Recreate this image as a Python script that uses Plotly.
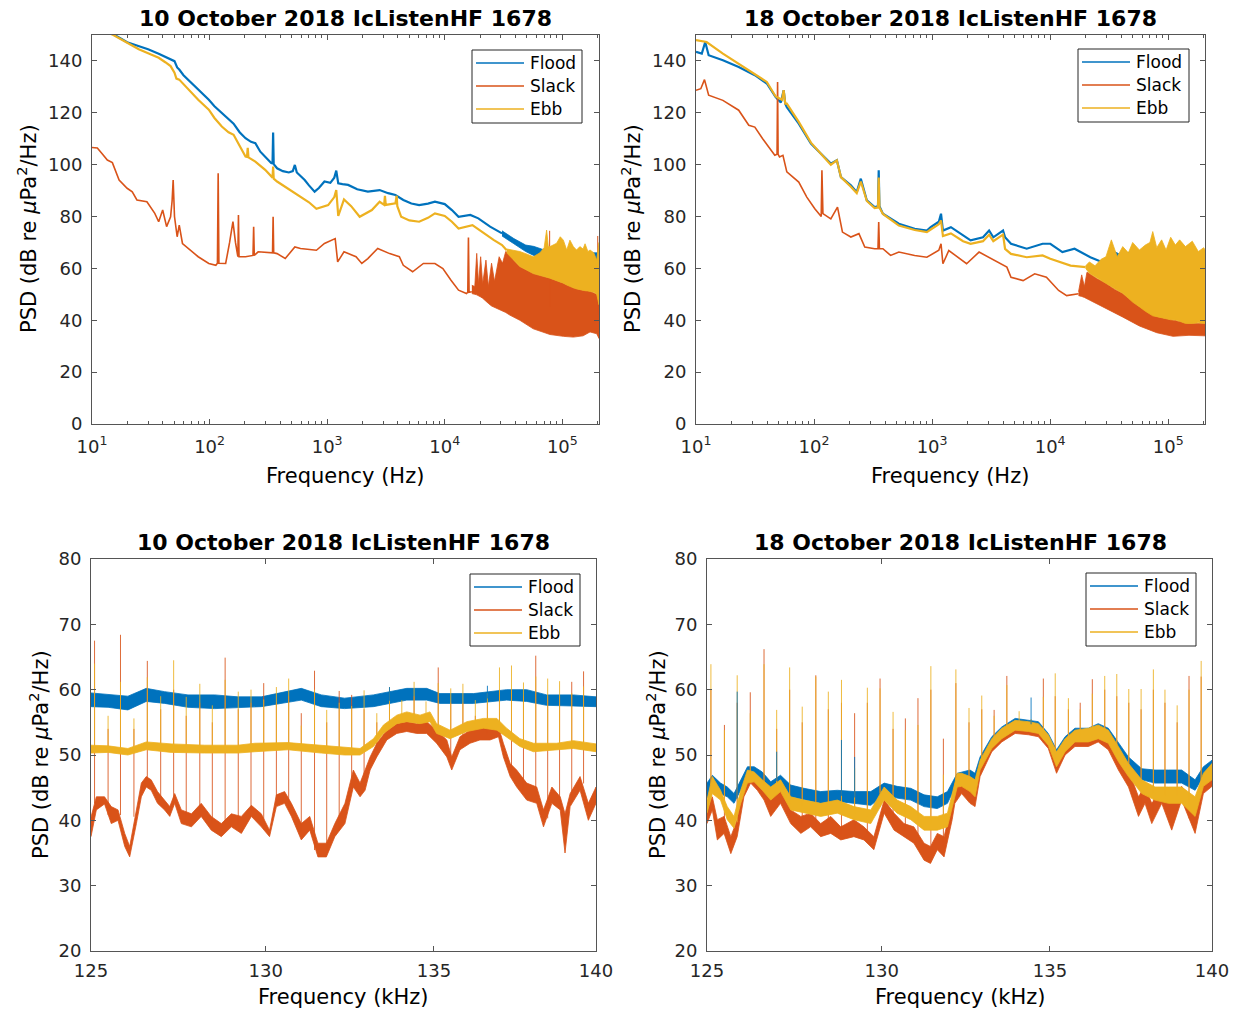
import numpy as np
import plotly.graph_objects as go

W, H = 1238, 1012
FLOOD, SLACK, EBB = "#0072BD", "#D95319", "#EDB120"
AX = "#262626"
FRAME = "#555555"
FONT = "DejaVu Sans"

# ---------------- 10 October 2018, broadband PSD (Hz, dB) ----------------
a_flood_f = [10, 12, 15.2, 19.9, 25.1, 30, 36.9, 42, 46.6, 50.3,
             53, 55.2, 60, 68.5, 80, 98.5, 110, 127, 145, 160,
             180, 202, 225, 245, 270, 297, 334, 343, 347, 351,
             375, 420, 472, 510, 531, 552, 600, 644, 700, 782,
             850, 948, 1064, 1150, 1195, 1242, 1350, 1507, 1800, 2218,
             2794, 3300, 3804, 4443, 5200, 6057, 7200, 8250, 10000, 11500,
             13100, 16500, 19300, 24300, 30700]
a_flood_db = [154, 152.5, 150.3, 147.2, 145.7, 144.5, 142.8, 141.5, 140.5, 139.9,
              137.5, 136.7, 134.5, 132, 129, 125, 122.5, 120, 117.5, 115.8,
              112.5, 110.2, 108.8, 108.3, 105, 103, 100.6, 100.5, 112.4, 100.2,
              98.6, 97.5, 97, 97.5, 99.9, 97, 95.5, 94.1, 92, 89.6,
              91, 93.5, 93, 95, 97.7, 92.8, 92.5, 92.2, 90.5, 89.6,
              90.2, 89, 88.3, 86.4, 85, 84.4, 85, 85.7, 84.8, 82.5,
              79.9, 80.6, 79.3, 76.1, 73.5]
a_flood_band_f = [30700, 38700, 48800, 57000, 66400, 83700, 120000, 205000]
a_flood_band_lo = [72.5, 69.5, 66.5, 65.0, 63.0, 61.0, 59.0, 57.0]
a_flood_band_hi = [74.5, 71.5, 69.0, 68.5, 67.5, 66.0, 66.0, 66.0]

a_slack_f = [10, 11.1, 12.3, 13.5, 14.9, 17.0, 19.9, 22, 24.1, 26.5,
             29.3, 34.2, 36.9, 39.9, 43.1, 46.6, 48, 49, 50.3, 53,
             55.2, 58.8, 68.5, 80, 98.5, 113, 116.6, 118.3, 120, 137,
             148, 158, 166, 172, 174, 176, 178, 202, 234, 237,
             240, 259, 343, 347, 351, 375, 440, 531, 593, 810,
             948, 1170, 1228, 1390, 1760, 1970, 2218, 2690, 3400, 4110,
             4440, 5330, 6580, 8250, 9640, 11300, 13100, 15300, 15700, 15900,
             16100, 17000]
a_slack_db = [106.6, 106.4, 104, 101.8, 100.8, 94.1, 90.9, 89.5, 86.4, 86,
              85.7, 81.2, 78, 82.5, 76.1, 79.9, 86, 94.1, 80, 72.2,
              76.7, 69.6, 67, 64.5, 61.9, 61.2, 62, 96.7, 62, 61.9,
              70, 78, 70, 64.5, 64.5, 80.6, 64.5, 64.5, 65, 76.1,
              65, 66.4, 66, 79.9, 66, 65.7, 63.8, 68.3, 67.7, 67,
              69.6, 71.5, 62.5, 66.4, 64.5, 61.9, 63.8, 67.7, 65.7, 64.5,
              61.2, 58.7, 61.9, 61.9, 59.9, 55.4, 51.6, 50.3, 50.8, 71.9,
              50.8, 51]
a_slack_band_f = [17000, 18000, 18700, 19400, 20200, 21000, 22400, 23500, 25000, 26500,
                  29000, 31000, 33000, 35700, 38000, 43500, 56600, 78500, 102000, 124000,
                  150000, 172000, 196000, 205000]
a_slack_band_lo = [50.3, 50.0, 49.8, 49.5, 49.0, 48.5, 47.5, 46.5, 45.5, 45.0,
                   44.2, 43.6, 43.0, 42.0, 41.3, 40.0, 36.7, 34.5, 33.8, 33.5,
                   34.0, 35.5, 34.8, 33.0]
a_slack_band_hi = [53.5, 53.0, 65.8, 54.0, 64.5, 54.0, 63.2, 53.0, 62.0, 55.0,
                   64.5, 62.0, 66.5, 65.5, 63.5, 60.7, 58.0, 56.2, 54.3, 52.5,
                   51.5, 51.2, 50.0, 46.0]
a_slack_tip_f = [78000, 200000]
a_slack_tip_db = [74.5, 72.5]

a_ebb_f = [10, 12, 15.2, 19.9, 25, 30, 36.9, 42, 46.6, 50.3,
           52.2, 55.2, 60, 68.5, 80, 98.5, 110, 127, 145, 160,
           180, 202, 208, 211, 214, 245, 297, 343, 347, 351,
           375, 440, 520, 593, 700, 810, 1020, 1150, 1195, 1242,
           1390, 1600, 1890, 2400, 2794, 3050, 3100, 3150, 3804, 3900,
           3950, 4260, 5000, 6057, 7200, 8250, 10000, 11500, 13100, 17200,
           21600, 26000, 30700, 33600]
a_ebb_db = [154, 152, 150, 147, 144.5, 143, 141.2, 139.5, 138, 135.5,
            133.2, 132.8, 131, 128.3, 125, 121.2, 118, 114.7, 112.5, 111.5,
            107, 103.1, 103, 106.5, 102.8, 101.2, 98, 95, 99.3, 94.6,
            93.5, 91.5, 89.5, 87.7, 85.5, 83, 84.4, 87.5, 90.2, 80.2,
            86.6, 84, 79.9, 82.5, 85.7, 84.5, 88, 84.5, 85.1, 88,
            84, 79.9, 78.5, 78, 79.5, 81.2, 80.2, 78, 75.4, 76.7,
            73.5, 71, 69, 67]
a_ebb_band_f = [33600, 38000, 43500, 50000, 56600, 64500, 70000, 73500, 76000, 78500,
                89400, 96000, 102000, 109000, 116000, 124000, 132000, 141000, 150000, 156000,
                165000, 172000, 185000, 196000, 205000]
a_ebb_band_lo = [66.0, 63.5, 60.7, 59.3, 58.0, 57.3, 56.9, 56.6, 56.4, 56.2,
                 55.2, 54.8, 54.3, 53.6, 53.0, 52.5, 52.1, 51.7, 51.5, 51.4,
                 51.3, 51.2, 50.8, 50.0, 46.0]
a_ebb_band_hi = [67.5, 67.1, 66.5, 65.5, 64.5, 66.0, 68.0, 74.8, 68.4, 68.4,
                 69.7, 72.2, 70.9, 67.1, 70.9, 68.4, 67.1, 68.4, 67.5, 69.5,
                 66.5, 67.1, 66.0, 63.2, 70.0]

# ---------------- 18 October 2018, broadband PSD (Hz, dB) ----------------
b_flood_f = [10, 11.2, 11.97, 12.8, 16.9, 23.0, 31.5, 39.8, 47.3, 52.3,
             55.3, 57, 58.8, 74.2, 94.1, 118.9, 138.7, 156, 168.9, 205,
             230, 249, 280, 326, 348, 353, 358, 383, 523, 712,
             903, 973, 1140, 1190, 1235, 1443, 1830, 2120, 2700, 3040,
             3300, 3990, 4150, 4660, 6330, 8630, 10030, 12700, 16100, 21900,
             29800]
b_flood_db = [143.5, 142.8, 147.3, 142.2, 140.3, 137.7, 134.5, 131.3, 126.1, 124,
              128.7, 123.5, 122.2, 115.8, 108.1, 103.6, 100.4, 101.7, 95.2, 92,
              89.4, 94.6, 86.2, 83.6, 84, 97.8, 84, 81.1, 77.2, 75.3,
              74.6, 75.9, 78, 81.1, 74.6, 75.9, 72.7, 70.8, 72, 74.6,
              72, 74.6, 72, 69.5, 67.6, 69.5, 69.5, 66.3, 67.6, 64.3,
              61.8]
b_flood_band_f = [29800, 35000, 41000, 50000, 60000, 80000, 120000, 205000]
b_flood_band_lo = [60.5, 58.0, 56.0, 54.0, 52.0, 50.0, 48.0, 46.0]
b_flood_band_hi = [63.0, 66.5, 65.0, 67.0, 66.0, 65.0, 64.0, 63.0]

b_slack_f = [10, 10.98, 11.8, 12.8, 16.9, 23.0, 28, 31.5, 36.7, 46.5,
             48.6, 49.1, 49.6, 51, 54.5, 58.8, 74.2, 86.8, 101.5, 115,
             116.6, 118.9, 138.7, 158, 174, 205, 240, 269, 326, 348,
             353, 358, 383, 445, 523, 712, 903, 1140, 1190, 1235,
             1385, 1960, 2500, 3400, 4300, 4660, 5900, 7400, 9300, 11800,
             13800, 17400]
b_slack_db = [128.7, 129.3, 132.8, 126.8, 124.8, 121, 115.2, 114.5, 110, 103.6,
              104, 131.9, 104, 103, 103.6, 97.2, 93.3, 87.5, 83, 80,
              97.8, 81.1, 79.1, 83.6, 74, 72.1, 73.4, 68.2, 67.6, 67.6,
              77.9, 67.6, 67.6, 65, 66.3, 65, 64.3, 67, 69.5, 61.8,
              66.9, 61.8, 66.3, 63.1, 60.5, 56.6, 55.3, 57.9, 56.6, 51.5,
              49.5, 50.2]
b_slack_band_f = [17400, 18500, 19500, 20500, 21500, 25000, 29700, 35000, 41000, 57000,
                  80000, 110000, 150000, 205000]
b_slack_band_lo = [49.5, 49.2, 48.8, 48.4, 47.8, 46.3, 44.5, 42.8, 41.3, 37.8,
                   35.2, 33.8, 34.2, 34.0]
b_slack_band_hi = [51.0, 57.5, 53.0, 58.5, 58.0, 56.0, 54.3, 52.0, 50.4, 45.2,
                   41.4, 40.1, 38.8, 38.8]

b_ebb_f = [10, 12.3, 16.9, 23.0, 31.5, 39.8, 47.3, 53.5, 55.3, 57,
           58.8, 74.2, 94.1, 118.9, 138.7, 156, 168.9, 205, 230, 249,
           280, 326, 348, 353, 358, 383, 523, 712, 903, 973,
           1140, 1190, 1235, 1443, 1830, 2120, 2700, 3040, 3300, 3990,
           4150, 4660, 6330, 8630, 10030, 14900, 20000]
b_ebb_db = [148, 147.3, 142.8, 139, 135.1, 131.9, 126.3, 125, 128.7, 123.5,
            123.5, 116.5, 108.5, 103.6, 100, 101.7, 95.2, 91.5, 89, 93.5,
            86, 83.3, 83.5, 95, 83.5, 81, 76.5, 74.8, 74, 75,
            77, 78.5, 72.5, 73.5, 70.5, 69.5, 70.5, 73, 70.5, 73,
            67.5, 65.6, 64.3, 65, 63.7, 61.1, 60.5]
b_ebb_band_f = [20000, 21500, 24000, 27000, 29700, 33000, 37000, 41200, 46000, 50000,
                57000, 64000, 70000, 74000, 80000, 88000, 96000, 105000, 115000, 125000,
                140000, 160000, 180000, 200000, 205000]
b_ebb_band_lo = [60.0, 58.1, 57.0, 55.5, 54.3, 53.0, 51.6, 50.4, 48.5, 47.0,
                 45.2, 43.5, 42.3, 41.7, 41.4, 40.9, 40.5, 40.2, 40.1, 39.6,
                 38.8, 38.8, 39.0, 38.8, 38.8]
b_ebb_band_hi = [61.0, 62.5, 61.0, 63.5, 64.5, 71.0, 64.5, 68.4, 66.0, 70.0,
                 67.1, 69.0, 70.0, 74.2, 68.0, 71.0, 67.1, 72.0, 69.0, 71.0,
                 68.4, 70.5, 66.5, 68.0, 67.1]

# ---------------- 10 October 2018, 125-140 kHz detail (kHz, dB) ----------------
c_flood_f = [125.00, 125.48, 126.04, 126.56, 127.08, 127.75, 128.52, 129.19, 129.87, 131.04,
             131.63, 132.32, 133.18, 134.18, 134.78, 135.18, 136.20, 137.22, 137.84, 138.46,
             139.29, 140.0]
c_flood_lo = [57.4, 57.3, 56.9, 58.2, 57.9, 57.3, 57.1, 57.3, 57.4, 58.4,
              57.4, 57.1, 57.4, 58.4, 58.4, 57.9, 57.9, 58.4, 58.2, 57.6,
              57.5, 57.4]
c_flood_hi = [59.5, 59.3, 59.0, 60.2, 59.7, 59.2, 59.2, 58.9, 58.9, 60.2,
              59.2, 58.7, 59.2, 60.2, 60.2, 59.4, 59.4, 60.0, 60.0, 59.2,
              59.2, 58.9]

c_slack_f = [125.00, 125.15, 125.38, 125.57, 125.76, 125.95, 126.09, 126.28, 126.42, 126.56,
             126.70, 126.88, 127.08, 127.23, 127.37, 127.56, 127.85, 128.13, 128.42, 128.71,
             129.00, 129.29, 129.58, 129.87, 130.11, 130.31, 130.55, 130.75, 131.04, 131.29,
             131.53, 131.78, 132.03, 132.33, 132.58, 132.78, 132.93, 133.08, 133.28, 133.58,
             133.88, 134.18, 134.48, 134.78, 135.08, 135.39, 135.54, 135.79, 136.10, 136.40,
             136.71, 136.97, 137.12, 137.33, 137.53, 137.84, 138.15, 138.36, 138.62, 138.88,
             139.03, 139.19, 139.50, 139.76, 140.0]
c_slack_lo = [37.5, 41.6, 42.5, 39.5, 40.0, 36.0, 34.4, 39.5, 43.6, 45.1,
              44.6, 42.6, 41.6, 40.6, 42.6, 39.5, 39.0, 40.6, 38.5, 37.5,
              39.0, 38.0, 40.6, 39.0, 37.5, 42.1, 42.6, 40.6, 37.0, 38.5,
              34.4, 34.4, 37.5, 39.5, 45.1, 43.6, 44.6, 47.7, 49.7, 52.3,
              53.3, 53.6, 53.3, 53.3, 51.8, 49.7, 47.7, 50.8, 51.8, 52.3,
              52.3, 52.8, 49.7, 46.7, 45.1, 43.1, 42.6, 39.0, 42.6, 41.6,
              35.0, 42.1, 44.6, 40.0, 42.6]
c_slack_hi = [40.5, 43.6, 43.6, 42.1, 41.6, 38.0, 36.0, 41.6, 45.7, 46.7,
              46.2, 44.4, 43.1, 42.1, 44.1, 41.6, 41.0, 42.6, 40.6, 39.5,
              41.0, 40.6, 42.3, 41.0, 38.5, 43.9, 44.4, 42.6, 39.5, 40.6,
              36.5, 36.5, 39.5, 42.6, 47.7, 45.7, 47.7, 49.7, 51.8, 53.8,
              54.8, 55.1, 54.8, 55.1, 53.8, 52.3, 49.7, 52.8, 53.8, 54.3,
              54.3, 54.3, 51.8, 48.7, 47.7, 45.7, 45.1, 41.6, 45.1, 43.6,
              41.0, 44.1, 46.7, 42.6, 45.1]

c_ebb_f = [125.00, 125.48, 126.04, 126.56, 127.27, 128.23, 129.19, 129.68, 130.65, 131.63,
           132.32, 132.78, 133.18, 133.48, 133.88, 134.18, 134.58, 134.88, 135.08, 135.49,
           136.00, 136.51, 136.92, 137.22, 137.63, 138.05, 138.77, 139.29, 140.0]
c_ebb_lo = [50.3, 50.4, 50.0, 50.8, 50.4, 50.3, 50.3, 50.5, 50.8, 50.3,
            50.0, 50.0, 51.3, 53.3, 54.8, 55.1, 54.8, 55.1, 53.3, 52.5,
            53.6, 54.1, 53.8, 52.8, 51.3, 50.5, 50.8, 51.0, 50.5]
c_ebb_hi = [51.5, 51.4, 51.0, 52.0, 51.7, 51.5, 51.5, 51.8, 51.9, 51.5,
            51.3, 51.0, 52.5, 54.6, 56.1, 56.6, 56.1, 56.6, 54.8, 53.8,
            55.1, 55.6, 55.6, 54.1, 52.5, 51.8, 51.8, 52.2, 51.7]

c_tone_f = [125.10, 125.48, 125.83, 126.21, 126.59, 126.97, 127.34, 127.70, 128.09, 128.45,
            128.82, 129.20, 129.57, 129.94, 130.31, 130.67, 131.04, 131.43, 131.79, 132.16,
            132.53, 132.90, 133.28, 133.66, 134.03, 134.40, 134.76, 135.13, 135.51, 135.88,
            136.26, 136.63, 137.00, 137.37, 137.74, 138.12, 138.49, 138.86, 139.24, 139.61]
c_tone_slack = [67.5, 54.0, 68.4, 54.0, 64.4, 57.0, 60.0, 56.0, 58.0, 55.0,
                64.9, 57.0, 58.0, 61.0, 58.0, 59.0, 56.4, 62.9, 55.0, 59.8,
                59.2, 57.0, 55.0, 58.0, 56.0, 59.0, 56.0, 63.4, 58.0, 58.0,
                56.0, 58.0, 60.0, 60.0, 59.0, 65.2, 59.0, 59.0, 61.2, 62.8]
c_tone_ebb = [64.0, 56.0, 61.2, 55.6, 61.9, 59.0, 64.5, 58.9, 60.9, 57.6,
              61.5, 59.7, 60.0, 58.5, 60.4, 61.7, 54.5, 60.0, 56.9, 58.0,
              57.5, 59.9, 56.4, 60.4, 58.4, 61.2, 58.2, 61.0, 60.2, 60.9,
              58.4, 59.5, 63.4, 63.7, 61.1, 62.0, 61.7, 61.3, 59.5, 60.5]
c_tone_flood_f = [133.66, 136.63]
c_tone_flood = [60.4, 60.6]

# ---------------- 18 October 2018, 125-140 kHz detail (kHz, dB) ----------------
d_f = [125.00, 125.15, 125.38, 125.57, 125.76, 125.95, 126.14, 126.33, 126.56, 126.80,
       127.08, 127.37, 127.75, 128.23, 128.71, 129.19, 129.68, 130.07, 130.45, 130.85,
       131.24, 131.63, 131.93, 132.22, 132.35, 132.60, 132.75, 132.90, 133.25, 133.55,
       133.95, 134.35, 134.65, 134.95, 135.20, 135.46, 135.76, 136.17, 136.47, 136.78,
       137.09, 137.40, 137.81, 138.22, 138.64, 139.05, 139.47, 139.73, 140.0]
d_flood_lo = [43.4, 44.6, 44.1, 43.6, 42.6, 44.6, 46.7, 46.7, 45.7, 44.4,
              45.1, 43.6, 43.1, 42.6, 42.9, 42.6, 42.3, 43.9, 43.4, 43.1,
              42.1, 41.8, 42.6, 45.7, 45.7, 45.7, 45.2, 48.2, 51.3, 52.8,
              54.3, 54.1, 53.8, 51.8, 48.2, 50.8, 52.3, 52.3, 52.8, 51.8,
              49.2, 47.7, 46.2, 45.7, 45.7, 45.7, 44.6, 46.7, 47.2]
d_flood_hi = [45.7, 46.9, 45.7, 45.1, 44.1, 46.2, 48.2, 48.2, 47.4, 45.9,
              46.9, 45.4, 44.9, 44.4, 44.6, 44.4, 44.4, 45.7, 45.2, 44.9,
              43.9, 43.6, 44.4, 47.2, 47.4, 47.7, 47.2, 49.7, 52.8, 54.3,
              55.6, 55.3, 55.1, 53.3, 50.8, 52.8, 54.1, 54.1, 54.8, 54.1,
              51.8, 49.7, 47.9, 47.7, 47.7, 47.7, 46.2, 48.2, 49.2]
d_ebb_lo = [41.1, 44.1, 43.1, 40.1, 38.8, 42.6, 45.7, 45.9, 44.6, 43.1,
            44.4, 41.6, 41.1, 40.6, 41.1, 40.1, 39.5, 43.1, 41.1, 40.1,
            38.5, 38.5, 39.0, 45.1, 45.2, 44.4, 43.6, 47.7, 51.0, 52.5,
            53.8, 53.6, 53.3, 51.5, 48.2, 50.5, 52.0, 52.0, 52.5, 51.8,
            49.0, 46.7, 44.1, 43.1, 42.6, 42.6, 40.6, 45.2, 46.2]
d_ebb_hi = [43.1, 46.7, 44.6, 42.1, 40.6, 44.6, 47.7, 47.4, 46.2, 45.1,
            46.2, 43.6, 43.1, 42.6, 43.1, 42.1, 41.6, 45.1, 43.1, 42.1,
            40.6, 40.6, 41.1, 47.2, 47.2, 46.7, 46.2, 49.2, 52.5, 54.1,
            55.3, 55.1, 54.8, 53.1, 50.5, 52.5, 53.8, 54.1, 54.6, 53.8,
            51.3, 48.7, 46.2, 45.1, 45.1, 45.1, 43.6, 47.2, 48.7]

d_slack_f = [125.00, 125.15, 125.29, 125.48, 125.67, 125.85, 126.04, 126.23, 126.42, 126.61,
             126.80, 127.08, 127.37, 127.66, 127.94, 128.23, 128.52, 128.81, 129.19, 129.48,
             129.77, 130.07, 130.36, 130.65, 130.94, 131.24, 131.43, 131.63, 131.83, 132.07,
             132.15, 132.35, 132.60, 132.75, 132.90, 133.25, 133.55, 133.95, 134.35, 134.65,
             134.95, 135.20, 135.46, 135.76, 136.17, 136.47, 136.78, 137.09, 137.40, 137.71,
             137.91, 138.12, 138.43, 138.74, 139.05, 139.47, 139.73, 140.0]
d_slack_lo = [39.5, 41.6, 37.0, 38.0, 34.9, 37.5, 43.6, 45.7, 44.6, 43.1,
              40.6, 42.6, 39.5, 38.0, 39.0, 37.5, 38.0, 37.0, 37.5, 37.0,
              35.5, 41.1, 38.5, 37.5, 36.5, 33.9, 33.4, 35.5, 34.4, 40.1,
              42.6, 44.1, 42.6, 42.1, 46.7, 50.5, 52.0, 53.3, 53.1, 52.8,
              51.0, 47.2, 50.0, 51.3, 51.3, 52.0, 50.8, 47.7, 45.1, 40.6,
              42.6, 39.5, 42.6, 38.5, 43.1, 38.0, 44.1, 45.2]
d_slack_hi = [41.6, 43.6, 40.1, 40.6, 37.5, 40.1, 45.7, 47.4, 46.7, 45.2,
              43.1, 45.2, 41.6, 40.6, 41.1, 39.5, 40.6, 39.0, 40.1, 39.0,
              37.5, 43.1, 41.1, 39.5, 39.0, 36.5, 36.0, 38.0, 37.5, 42.6,
              45.7, 46.7, 45.7, 45.2, 48.7, 52.3, 53.8, 55.1, 54.8, 54.6,
              52.8, 49.7, 52.0, 53.3, 53.3, 54.3, 53.3, 50.3, 47.7, 43.6,
              45.2, 42.6, 44.6, 43.1, 45.2, 42.6, 46.7, 47.7]

d_tone_f = [125.11, 125.49, 125.85, 126.22, 126.61, 126.97, 127.34, 127.70, 128.09, 128.45,
            128.83, 129.21, 129.58, 129.95, 130.33, 130.69, 131.06, 131.44, 131.81, 132.18,
            132.57, 132.95, 133.32, 133.70, 134.07, 134.43, 134.80, 135.16, 135.56, 135.92,
            136.29, 136.67, 137.04, 137.41, 137.79, 138.17, 138.53, 138.91, 139.28, 139.66]
d_tone_slack = [60.0, 54.6, 58.0, 59.6, 66.2, 54.0, 60.0, 55.0, 62.2, 57.0,
                58.0, 56.4, 58.0, 61.7, 54.0, 55.6, 58.7, 60.0, 52.5, 61.0,
                55.0, 57.0, 56.9, 62.1, 55.0, 55.0, 61.7, 59.0, 57.0, 58.0,
                61.6, 60.0, 59.0, 58.0, 57.0, 60.0, 58.0, 55.0, 62.1, 62.0]
d_tone_ebb = [63.9, 53.8, 62.2, 56.4, 63.9, 56.9, 63.4, 57.4, 62.0, 59.7,
              61.5, 48.0, 60.3, 60.2, 56.6, 53.8, 54.6, 63.6, 47.0, 63.1,
              57.2, 59.1, 56.0, 60.7, 56.7, 55.5, 58.9, 62.5, 58.7, 57.0,
              59.4, 62.1, 62.4, 60.1, 60.1, 63.1, 60.0, 57.6, 60.0, 64.4]
d_tone_flood_f = [125.85, 126.97, 128.83, 129.21, 134.43]
d_tone_flood = [59.7, 50.5, 52.3, 49.7, 58.8]

TITLE_A = "10 October 2018 IcListenHF 1678"
TITLE_B = "18 October 2018 IcListenHF 1678"
YLABEL = "PSD (dB re <i>μ</i>Pa<sup>2</sup>/Hz)"
XLABEL_HZ = "Frequency (Hz)"
XLABEL_KHZ = "Frequency (kHz)"
SERIES = ["Flood", "Slack", "Ebb"]
COLORS = [FLOOD, SLACK, EBB]

# ---------------------------------------------------------------------------
fig = go.Figure()

# plot boxes in pixels: (left, right, top, bottom)
boxes = {
    1: (92, 599, 35, 424),
    2: (696, 1205, 35, 424),
    3: (91, 596, 559, 951),
    4: (707, 1212, 559, 951),
}


def axes_of(k):
    return ("x" if k == 1 else f"x{k}"), ("y" if k == 1 else f"y{k}")


def add_line(k, f, db, color, width=2.0):
    xa, ya = axes_of(k)
    fig.add_trace(go.Scatter(x=f, y=db, mode="lines", line=dict(color=color, width=width),
                             xaxis=xa, yaxis=ya, showlegend=False, hoverinfo="skip"))


def add_band(k, f, lo, hi, color, width=0.8):
    xa, ya = axes_of(k)
    xs = list(f) + list(f)[::-1]
    ys = list(hi) + list(lo)[::-1]
    fig.add_trace(go.Scatter(x=xs, y=ys, mode="lines", fill="toself", fillcolor=color,
                             line=dict(color=color, width=width),
                             xaxis=xa, yaxis=ya, showlegend=False, hoverinfo="skip"))


def add_tones(k, f, peak, base_f, base_lo, base_hi, color, opacity=0.85):
    """Narrow tonal lines rising from the noise floor of a series."""
    xa, ya = axes_of(k)
    bf = np.asarray(base_f, dtype=float)
    mid = (np.asarray(base_lo, dtype=float) + np.asarray(base_hi, dtype=float)) / 2
    xs, ys = [], []
    for fk, pk in zip(f, peak):
        i = int(np.argmin(np.abs(bf - fk)))
        xs += [fk, fk, None]
        ys += [float(mid[i]), pk, None]
    fig.add_trace(go.Scatter(x=xs, y=ys, mode="lines", line=dict(color=color, width=1),
                             opacity=opacity, xaxis=xa, yaxis=ya,
                             showlegend=False, hoverinfo="skip"))


# Panel 1: 10 Oct broadband
add_line(1, a_flood_f, a_flood_db, FLOOD, 2.2)
add_band(1, a_flood_band_f, a_flood_band_lo, a_flood_band_hi, FLOOD)
add_line(1, a_slack_f, a_slack_db, SLACK, 1.6)
add_band(1, a_slack_band_f, a_slack_band_lo, a_slack_band_hi, SLACK)
add_tones(1, a_slack_tip_f, a_slack_tip_db, a_slack_band_f, a_slack_band_lo, a_slack_band_hi, SLACK, 1.0)
add_line(1, a_ebb_f, a_ebb_db, EBB, 2.2)
add_band(1, a_ebb_band_f, a_ebb_band_lo, a_ebb_band_hi, EBB)

# Panel 2: 18 Oct broadband
add_line(2, b_flood_f, b_flood_db, FLOOD, 2.2)
add_band(2, b_flood_band_f, b_flood_band_lo, b_flood_band_hi, FLOOD)
add_line(2, b_slack_f, b_slack_db, SLACK, 1.6)
add_band(2, b_slack_band_f, b_slack_band_lo, b_slack_band_hi, SLACK)
add_line(2, b_ebb_f, b_ebb_db, EBB, 2.2)
add_band(2, b_ebb_band_f, b_ebb_band_lo, b_ebb_band_hi, EBB)

# Panel 3: 10 Oct, 125-140 kHz
add_band(3, c_flood_f, c_flood_lo, c_flood_hi, FLOOD)
add_band(3, c_slack_f, c_slack_lo, c_slack_hi, SLACK)
add_tones(3, c_tone_f, c_tone_slack, c_slack_f, c_slack_lo, c_slack_hi, SLACK)
add_band(3, c_ebb_f, c_ebb_lo, c_ebb_hi, EBB)
add_tones(3, c_tone_f, c_tone_ebb, c_ebb_f, c_ebb_lo, c_ebb_hi, EBB)
add_tones(3, c_tone_flood_f, c_tone_flood, c_flood_f, c_flood_lo, c_flood_hi, FLOOD)

# Panel 4: 18 Oct, 125-140 kHz
add_band(4, d_f, d_flood_lo, d_flood_hi, FLOOD)
add_band(4, d_slack_f, d_slack_lo, d_slack_hi, SLACK)
add_tones(4, d_tone_f, d_tone_slack, d_slack_f, d_slack_lo, d_slack_hi, SLACK)
add_band(4, d_f, d_ebb_lo, d_ebb_hi, EBB)
add_tones(4, d_tone_f, d_tone_ebb, d_f, d_ebb_lo, d_ebb_hi, EBB)
add_tones(4, d_tone_flood_f, d_tone_flood, d_f, d_flood_lo, d_flood_hi, FLOOD)

# ---------------------------------------------------------------------------
common = dict(showline=True, linecolor=FRAME, linewidth=1, mirror="ticks",
              ticks="inside", ticklen=5, tickwidth=1, tickcolor=FRAME,
              showgrid=False, zeroline=False, automargin=False,
              tickfont=dict(family=FONT, size=18, color=AX))

decades = [10, 100, 1000, 10000, 100000]
decade_text = ["10<sup>1</sup>", "10<sup>2</sup>", "10<sup>3</sup>", "10<sup>4</sup>", "10<sup>5</sup>"]
minor_vals = [m * d for d in decades for m in range(2, 10)]

layout = dict(width=W, height=H, autosize=False,
              margin=dict(l=0, r=0, t=0, b=0, pad=0, autoexpand=False),
              paper_bgcolor="white", plot_bgcolor="white",
              font=dict(family=FONT, color=AX), showlegend=False)

for k, (x0, x1, y0, y1) in boxes.items():
    xkey = "xaxis" if k == 1 else f"xaxis{k}"
    ykey = "yaxis" if k == 1 else f"yaxis{k}"
    xa, ya = axes_of(k)
    xdom = [x0 / W, x1 / W]
    ydom = [1 - y1 / H, 1 - y0 / H]
    if k in (1, 2):
        xax = dict(common, type="log", range=[1, np.log10(2.05e5)], domain=xdom, anchor=ya,
                   tickmode="array", tickvals=decades, ticktext=decade_text,
                   ticklabelstandoff=6,
                   minor=dict(ticks="inside", ticklen=3, tickcolor=FRAME, tickwidth=1,
                              tickmode="array", tickvals=minor_vals, showgrid=False))
        yax = dict(common, range=[0, 150], domain=ydom, anchor=xa,
                   tickmode="array", tickvals=list(range(0, 141, 20)),
                   ticklabelstandoff=5)
    else:
        xax = dict(common, type="log", range=[np.log10(125), np.log10(140)], domain=xdom, anchor=ya,
                   tickmode="array", tickvals=[125, 130, 135, 140],
                   ticktext=["125", "130", "135", "140"], ticklabelstandoff=3)
        yax = dict(common, range=[20, 80], domain=ydom, anchor=xa,
                   tickmode="array", tickvals=list(range(20, 81, 10)),
                   ticklabelstandoff=5)
    layout[xkey] = xax
    layout[ykey] = yax

fig.update_layout(**layout)


def px_x(v):
    return v / W


def px_y(v):
    return 1 - v / H


# Legend boxes drawn in page pixels: (left, right, top, bottom)
legend_boxes = [(472, 582, 50, 123), (1078, 1189, 49, 122),
                (470, 580, 574, 646), (1086, 1196, 573, 646)]
for (lx0, lx1, ly0, ly1) in legend_boxes:
    fig.add_shape(type="rect", xref="paper", yref="paper",
                  x0=px_x(lx0), x1=px_x(lx1), y0=px_y(ly1), y1=px_y(ly0),
                  line=dict(color=AX, width=1), fillcolor="white", layer="above")
    for j, (nm, col) in enumerate(zip(SERIES, COLORS)):
        row = ly0 + 13 + 23 * j
        fig.add_shape(type="line", xref="paper", yref="paper",
                      x0=px_x(lx0 + 4), x1=px_x(lx0 + 52), y0=px_y(row), y1=px_y(row),
                      line=dict(color=col, width=1.5), layer="above")
        fig.add_annotation(text=nm, x=px_x(lx0 + 56), y=px_y(row), xref="paper", yref="paper",
                           xanchor="left", yanchor="middle", showarrow=False,
                           font=dict(family=FONT, size=17, color="black"))


def note(text, px, py, size, angle=0, bold=False):
    fig.add_annotation(text=f"<b>{text}</b>" if bold else text,
                       x=px_x(px), y=px_y(py), xref="paper", yref="paper",
                       xanchor="center", yanchor="middle", showarrow=False,
                       textangle=angle, font=dict(family=FONT, size=size, color="black"))


note(TITLE_A, 345, 18, 22, bold=True)
note(TITLE_B, 950, 18, 22, bold=True)
note(TITLE_A, 343, 542, 22, bold=True)
note(TITLE_B, 960, 542, 22, bold=True)
note(XLABEL_HZ, 345, 476, 21)
note(XLABEL_HZ, 950, 476, 21)
note(XLABEL_KHZ, 343, 997, 21)
note(XLABEL_KHZ, 960, 997, 21)
note(YLABEL, 27, 229, 21, angle=-90)
note(YLABEL, 631, 229, 21, angle=-90)
note(YLABEL, 39, 755, 21, angle=-90)
note(YLABEL, 656, 755, 21, angle=-90)

fig.write_html("out.html")
